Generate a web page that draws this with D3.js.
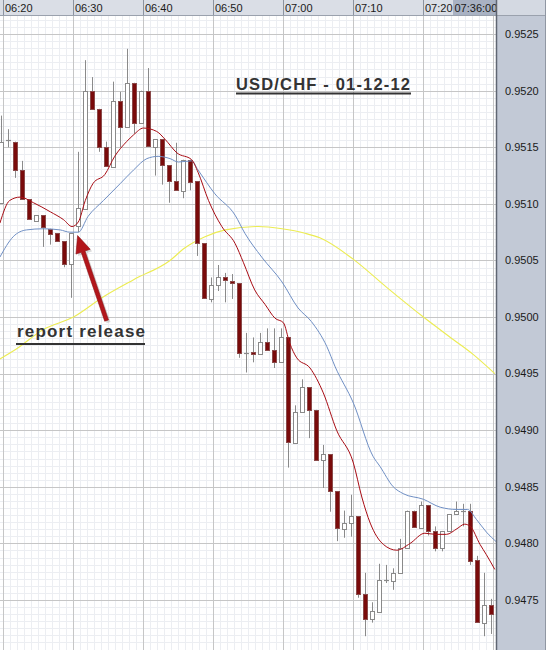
<!DOCTYPE html>
<html><head><meta charset="utf-8">
<script src="https://cdn.jsdelivr.net/npm/d3@7"></script>
<style>html,body{margin:0;padding:0;background:#fff;overflow:hidden}</style>
</head><body>
<svg id="c" width="546" height="650"></svg>
<script>
// ---------- data ----------
const timeLabels = ["06:20","06:30","06:40","06:50","07:00","07:10","07:20"];
const priceTicks = [0.9525,0.9520,0.9515,0.9510,0.9505,0.9500,0.9495,0.9490,0.9485,0.9480,0.9475];
const cursorTime = "07:36:00";
const titleText = "USD/CHF - 01-12-12";
const noteText = "report release";

// one-minute candles starting 06:20
const openP  = [0.95101,0.95155,0.95155,0.95130,0.95104,0.95085,0.95090,0.95078,0.95074,0.95067,
                0.95047,0.95080,0.95096,0.95200,0.95184,0.95150,0.95133,0.95191,0.95168,0.95207,
                0.95172,0.95200,0.95150,0.95157,0.95134,0.95120,0.95112,0.95139,0.95120,0.95065,
                0.95016,0.95028,0.95035,0.95032,0.95030,0.94968,0.94969,0.94967,0.94978,0.94971,
                0.94960,0.94982,0.94889,0.94916,0.94938,0.94918,0.94874,0.94879,0.94846,0.94813,
                0.94818,0.94824,0.94755,0.94733,0.94740,0.94768,0.94767,0.94774,0.94796,0.94829,
                0.94814,0.94834,0.94811,0.94796,0.94811,0.94826,0.94829,0.94829,0.94785,0.94730,
                0.94746,0.94738];
const highP  = [0.95178,0.95166,0.95155,0.95138,0.95104,0.95090,0.95090,0.95078,0.95074,0.95067,
                0.95074,0.95146,0.95227,0.95212,0.95184,0.95155,0.95208,0.95199,0.95237,0.95207,
                0.95200,0.95220,0.95157,0.95157,0.95134,0.95154,0.95139,0.95139,0.95120,0.95065,
                0.95035,0.95046,0.95039,0.95038,0.95030,0.94986,0.94982,0.94986,0.94990,0.94990,
                0.94990,0.94982,0.94922,0.94945,0.94938,0.94918,0.94887,0.94879,0.94846,0.94829,
                0.94843,0.94824,0.94774,0.94748,0.94782,0.94781,0.94778,0.94804,0.94829,0.94829,
                0.94837,0.94834,0.94815,0.94811,0.94826,0.94837,0.94835,0.94835,0.94789,0.94774,
                0.94751,0.94740];
const lowP   = [0.95101,0.95150,0.95123,0.95104,0.95086,0.95085,0.95062,0.95064,0.95067,0.95044,
                0.95017,0.95075,0.95096,0.95184,0.95146,0.95133,0.95133,0.95150,0.95168,0.95162,
                0.95172,0.95151,0.95125,0.95117,0.95101,0.95112,0.95105,0.95112,0.95054,0.95016,
                0.95013,0.95023,0.95013,0.95016,0.94964,0.94951,0.94960,0.94967,0.94971,0.94955,
                0.94960,0.94867,0.94889,0.94916,0.94893,0.94874,0.94849,0.94828,0.94802,0.94805,
                0.94806,0.94752,0.94718,0.94730,0.94740,0.94765,0.94759,0.94774,0.94796,0.94815,
                0.94814,0.94807,0.94793,0.94793,0.94811,0.94826,0.94815,0.94781,0.94730,0.94718,
                0.94720,0.94715];
const closeP = [0.95155,0.95156,0.95130,0.95104,0.95086,0.95090,0.95079,0.95074,0.95067,0.95047,
                0.95074,0.95096,0.95200,0.95184,0.95150,0.95133,0.95191,0.95168,0.95207,0.95172,
                0.95200,0.95151,0.95157,0.95134,0.95120,0.95112,0.95139,0.95120,0.95065,0.95016,
                0.95028,0.95035,0.95032,0.95030,0.94968,0.94968,0.94967,0.94978,0.94971,0.94960,
                0.94982,0.94889,0.94916,0.94938,0.94918,0.94874,0.94879,0.94846,0.94813,0.94818,
                0.94824,0.94755,0.94733,0.94740,0.94768,0.94768,0.94774,0.94796,0.94829,0.94815,
                0.94834,0.94811,0.94796,0.94811,0.94826,0.94829,0.94829,0.94785,0.94730,0.94746,
                0.94738,0.94725];

// moving averages: [minutes after 06:20, price]
const fastMA = [[-0.2,0.95083],[1.2,0.95103],[2.7,0.95106],[4.6,0.95101],[7.0,0.95093],[8.9,0.95086],
  [10.1,0.95080],[11.0,0.95084],[12.0,0.95103],[13.1,0.95118],[14.8,0.95126],[16.2,0.95142],
  [17.9,0.95155],[18.9,0.95161],[20.3,0.95167],[22.2,0.95164],[23.4,0.95157],[25.1,0.95145],
  [27.2,0.95139],[28.1,0.95128],[29.6,0.95103],[31.5,0.95080],[33.4,0.95065],[34.6,0.95048],
  [36.2,0.95024],[37.7,0.95011],[39.1,0.94999],[40.3,0.94995],[41.2,0.94977],[42.2,0.94964],
  [44.1,0.94955],[46.0,0.94933],[47.9,0.94900],[50.3,0.94871],[51.5,0.94841],[52.7,0.94818],
  [54.6,0.94799],[56.5,0.94794],[58.4,0.94800],[60.5,0.94809],[62.0,0.94808],[63.6,0.94808],
  [65.1,0.94813],[66.2,0.94817],[67.0,0.94815],[68.4,0.94799],[69.3,0.94790],[70.5,0.94777]];
const slowMA = [[-0.2,0.95053],[1.7,0.95071],[3.6,0.95077],[6.0,0.95078],[8.4,0.95077],[9.8,0.95075],
  [11.0,0.95075],[12.4,0.95089],[14.6,0.95103],[17.0,0.95118],[18.9,0.95130],[20.8,0.95140],
  [22.4,0.95142],[24.1,0.95140],[25.3,0.95137],[27.2,0.95138],[28.1,0.95130],[30.5,0.95109],
  [33.4,0.95090],[34.8,0.95074],[37.2,0.95053],[40.1,0.95031],[42.4,0.95008],[44.3,0.94996],
  [46.5,0.94974],[47.7,0.94956],[50.3,0.94924],[53.1,0.94877],[54.1,0.94868],[56.0,0.94850],
  [57.4,0.94844],[60.3,0.94839],[62.7,0.94832],[65.1,0.94830],[66.6,0.94830],[67.9,0.94821],
  [69.3,0.94810],[70.8,0.94801]];
const longMA = [[-0.2,0.94963],[2.2,0.94972],[6.0,0.94989],[10.3,0.95000],[14.6,0.95018],[18.9,0.95033],
  [24.1,0.95050],[26.2,0.95061],[29.1,0.95071],[32.0,0.95077],[36.7,0.95080],[40.1,0.95078],
  [43.4,0.95074],[45.5,0.95070],[50.3,0.95051],[55.1,0.95026],[60.3,0.95000],[64.6,0.94980],
  [67.4,0.94967],[70.5,0.94950]];

// ---------- layout ----------
const W = 546, H = 650, plotR = 496, headH = 15;
const t0 = new Date(2012,0,12,6,20);
const minute = m => new Date(t0.getTime() + m*60000);
const x = d3.scaleTime().domain([t0, new Date(2012,0,12,7,30)]).range([3.3, 493.3]);
const y = d3.scaleLinear().domain([0.9475, 0.9520]).range([600, 90.7]);
const cx = m => x(minute(m)) - 2;
const crisp = v => Math.round(v) + 0.5;

const svg = d3.select("#c");
svg.append("rect").attr("width",W).attr("height",H).attr("fill","#fff");
svg.append("defs").append("clipPath").attr("id","plot")
  .append("rect").attr("x",0).attr("y",headH+1).attr("width",plotR).attr("height",H-headH);

const plot = svg.append("g").attr("clip-path","url(#plot)");

// minor grid
const minorG = plot.append("g").attr("stroke","#eceef2").attr("stroke-width",1);
d3.range(-1, 72).forEach(m => {
  const xx = crisp(x(minute(m)));
  minorG.append("line").attr("x1",xx).attr("x2",xx).attr("y1",0).attr("y2",H);
});
d3.range(0, 112).forEach(k => {
  const p = 0.9470 + k*0.0000625;
  const yy = crisp(y(p));
  minorG.append("line").attr("x1",0).attr("x2",plotR).attr("y1",yy).attr("y2",yy);
});
// major grid
const majorG = plot.append("g").attr("stroke","#c6c6c6").attr("stroke-width",1);
d3.range(0, 8).forEach(k => {
  const xx = crisp(x(minute(k*10)));
  majorG.append("line").attr("x1",xx).attr("x2",xx).attr("y1",0).attr("y2",H);
});
priceTicks.concat([0.9470]).forEach(p => {
  const yy = crisp(y(p));
  majorG.append("line").attr("x1",0).attr("x2",plotR).attr("y1",yy).attr("y2",yy);
});

// moving averages
const toPts = a => a.map(d => [cx(d[0]), y(d[1])]);
const line = d3.line().curve(d3.curveMonotoneX);
plot.append("path").attr("d", line(toPts(longMA))).attr("fill","none").attr("stroke","#ecec52").attr("stroke-width",1.1);

// candles
const candles = openP.map((o,i) => ({i, o, h:highP[i], l:lowP[i], c:closeP[i]}));
const cg = plot.append("g");
candles.forEach(d => {
  const xx = crisp(cx(d.i));
  cg.append("line").attr("x1",xx).attr("x2",xx).attr("y1",y(d.h)).attr("y2",y(d.l))
    .attr("stroke","#8a8a8a").attr("stroke-width",1);
  const top = y(Math.max(d.o,d.c)), bot = y(Math.min(d.o,d.c));
  const bull = d.c >= d.o;
  if (bot - top < 1.2) {
    cg.append("line").attr("x1",xx-2.5).attr("x2",xx+2.5).attr("y1",crisp(top)).attr("y2",crisp(top))
      .attr("stroke", bull ? "#8a8a8a" : "#7a0b0b").attr("stroke-width",1.2);
  } else {
    cg.append("rect").attr("x",xx-2).attr("width",4).attr("y",crisp(top)).attr("height",Math.round(bot-top))
      .attr("fill", bull ? "#ffffff" : "#7a0b0b")
      .attr("stroke", bull ? "#8a8a8a" : "#8a4a4a").attr("stroke-width",1);
  }
});

plot.append("path").attr("d", line(toPts(slowMA))).attr("fill","none").attr("stroke","#6f8fc4").attr("stroke-width",1);
plot.append("path").attr("d", line(toPts(fastMA))).attr("fill","none").attr("stroke","#a80c14").attr("stroke-width",1);

// annotations
const txt = svg.append("g").attr("font-family","'Liberation Sans', Arial, sans-serif").attr("font-weight","bold").attr("fill","#333");
txt.append("text").attr("x",236).attr("y",90).attr("font-size",16.5)
  .attr("textLength",174).attr("lengthAdjust","spacing").text(titleText);
svg.append("line").attr("x1",236).attr("x2",411).attr("y1",93.5).attr("y2",93.5).attr("stroke","#333").attr("stroke-width",2);
txt.append("text").attr("x",17).attr("y",337).attr("font-size",17)
  .attr("textLength",128).attr("lengthAdjust","spacing").text(noteText);
svg.append("line").attr("x1",16).attr("x2",145).attr("y1",344).attr("y2",344).attr("stroke","#333").attr("stroke-width",2);

// arrow
(function(){
  const T = [cx(10.9), y(0.95072)];
  const S = [T[0] + 29, T[1] + 85];
  const dx = T[0]-S[0], dy = T[1]-S[1], L = Math.hypot(dx,dy);
  const u = [dx/L, dy/L], n = [-u[1], u[0]];
  const hl = 17, hw = 7.5, sw = 2;
  const B = [T[0]-u[0]*hl, T[1]-u[1]*hl];
  const P = (p,k) => [p[0]+n[0]*k, p[1]+n[1]*k];
  const pts = [P(S,sw), P(B,sw), P(B,hw), T, P(B,-hw), P(B,-sw), P(S,-sw)];
  const poly = pts.map(p => p.join(",")).join(" ");
  svg.append("polygon").attr("points",poly).attr("fill","#999").attr("opacity",0.35).attr("transform","translate(2,2)");
  svg.append("polygon").attr("points",poly).attr("fill","#b3161b").attr("stroke","#8a0e10").attr("stroke-width",0.6);
})();

// header (time axis)
const font = "'Liberation Sans', Arial, sans-serif";
svg.append("rect").attr("x",0).attr("y",0).attr("width",plotR).attr("height",headH).attr("fill","#dadee6");
svg.append("line").attr("x1",0).attr("x2",plotR).attr("y1",headH+0.5).attr("y2",headH+0.5).attr("stroke","#9aa1ad");
timeLabels.forEach((t,k) => {
  const xx = crisp(x(minute(k*10)));
  svg.append("line").attr("x1",xx).attr("x2",xx).attr("y1",0).attr("y2",headH).attr("stroke","#8c93a0");
  svg.append("text").attr("x",xx+1.5).attr("y",11.5).attr("font-family",font).attr("font-size",11)
    .attr("fill","#1a1a1a").text(t);
});
svg.append("rect").attr("x",453).attr("y",0).attr("width",plotR-453).attr("height",headH).attr("fill","#a9b2c3");
svg.append("text").attr("x",454.5).attr("y",11.5).attr("font-family",font).attr("font-size",11)
  .attr("fill","#1a1a1a").text(cursorTime);

// right price panel
svg.append("rect").attr("x",plotR).attr("y",0).attr("width",W-plotR).attr("height",H).attr("fill","#c2c9d6");
svg.append("rect").attr("x",plotR).attr("y",0).attr("width",W-plotR).attr("height",headH).attr("fill","#d4d9e2");
svg.append("line").attr("x1",plotR).attr("x2",W).attr("y1",headH+0.5).attr("y2",headH+0.5).attr("stroke","#9aa1ad");
svg.append("line").attr("x1",plotR+0.5).attr("x2",plotR+0.5).attr("y1",0).attr("y2",H).attr("stroke","#5f6672").attr("stroke-width",1.5);
svg.append("line").attr("x1",W-0.5).attr("x2",W-0.5).attr("y1",0).attr("y2",H).attr("stroke","#9097a3");
priceTicks.forEach(p => {
  svg.append("text").attr("x",505).attr("y",y(p)).attr("dy","0.35em").attr("font-family",font)
    .attr("font-size",11).attr("fill","#1a1a1a").text(p.toFixed(4));
});
</script>
</body></html>
